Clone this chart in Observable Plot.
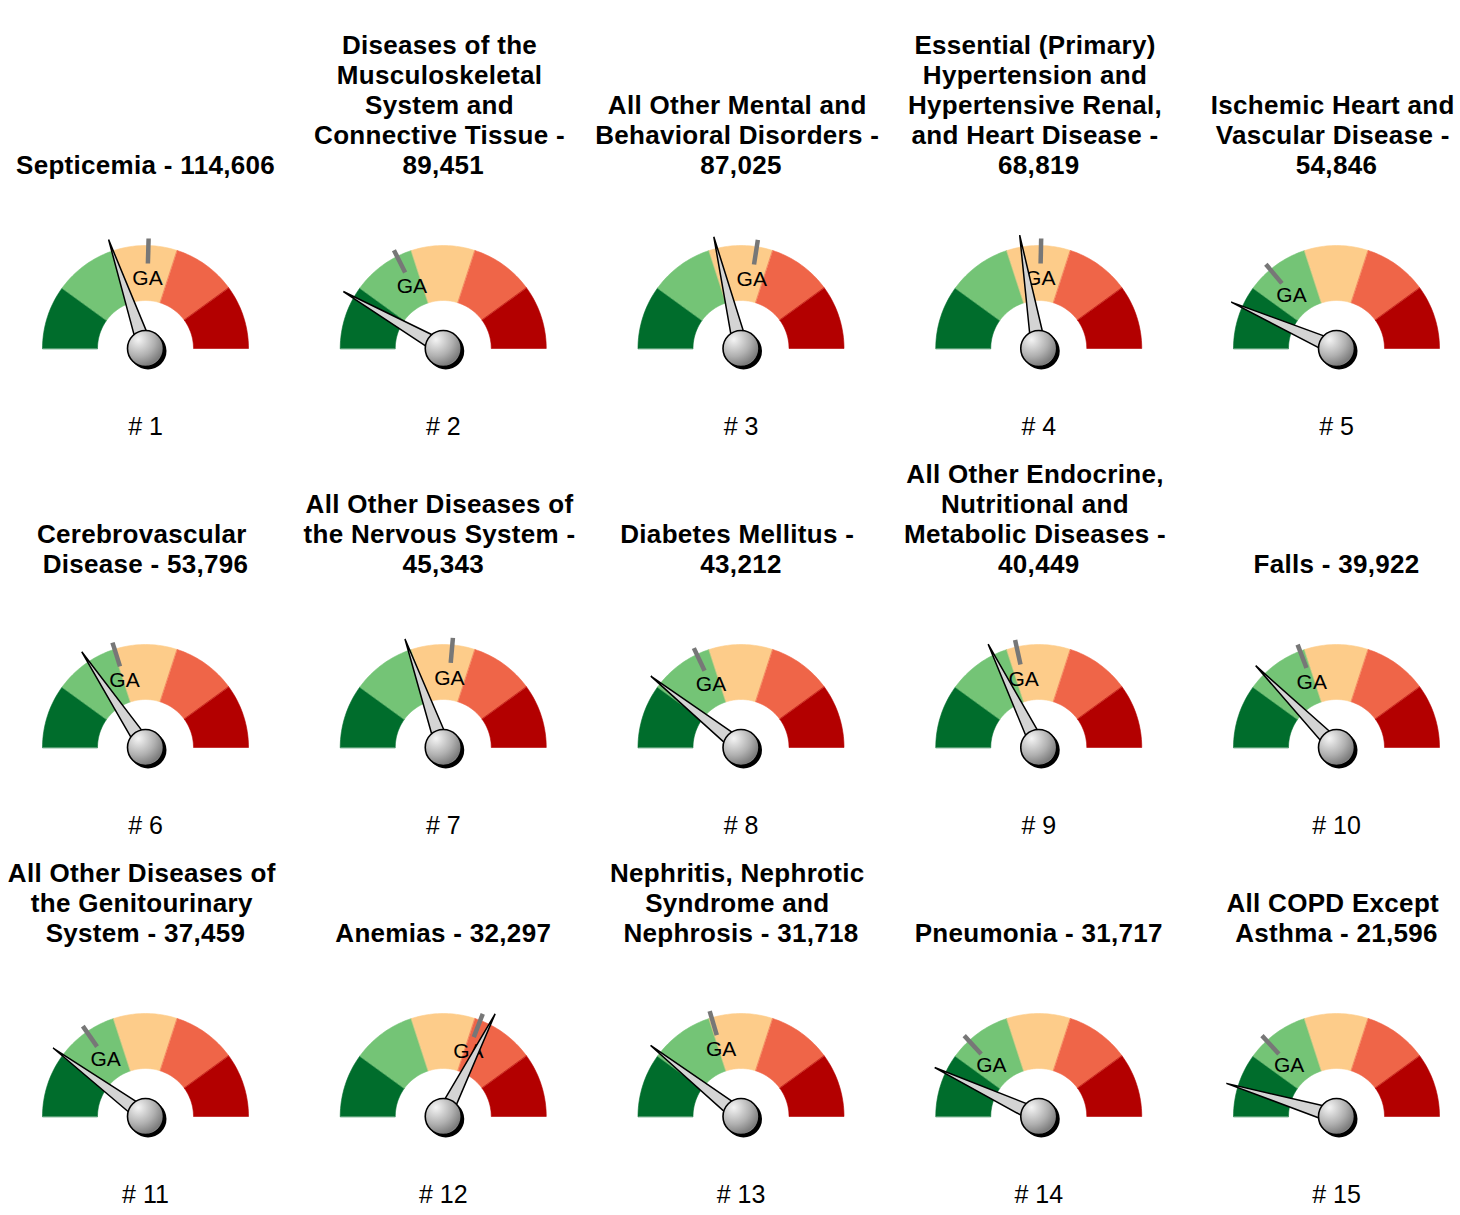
<!DOCTYPE html>
<html>
<head>
<meta charset="utf-8">
<script src="https://cdn.jsdelivr.net/npm/d3@7"></script>
<script src="https://cdn.jsdelivr.net/npm/@observablehq/plot@0.6"></script>
<style>
  body { margin: 0; background: #ffffff; }
  #chart svg { display: block; }
</style>
</head>
<body>
<div id="chart"></div>
<script>
// ---------------- data ----------------
const titles = [
  "Septicemia - 114,606",
  "Diseases of the\nMusculoskeletal\nSystem and\nConnective Tissue -\n89,451",
  "All Other Mental and\nBehavioral Disorders -\n87,025",
  "Essential (Primary)\nHypertension and\nHypertensive Renal,\nand Heart Disease -\n68,819",
  "Ischemic Heart and\nVascular Disease -\n54,846",
  "Cerebrovascular\nDisease - 53,796",
  "All Other Diseases of\nthe Nervous System -\n45,343",
  "Diabetes Mellitus -\n43,212",
  "All Other Endocrine,\nNutritional and\nMetabolic Diseases -\n40,449",
  "Falls - 39,922",
  "All Other Diseases of\nthe Genitourinary\nSystem - 37,459",
  "Anemias - 32,297",
  "Nephritis, Nephrotic\nSyndrome and\nNephrosis - 31,718",
  "Pneumonia - 31,717",
  "All COPD Except\nAsthma - 21,596"
];
const ranks = ["# 1","# 2","# 3","# 4","# 5","# 6","# 7","# 8","# 9","# 10","# 11","# 12","# 13","# 14","# 15"];
// needle position on the dial (0 = far left, 1 = far right)
const needleValues = [0.396, 0.165, 0.424, 0.447, 0.132, 0.313, 0.392, 0.213, 0.355, 0.252, 0.203, 0.649, 0.212, 0.140, 0.093];
// Georgia (GA) reference marker position on the dial
const gaValues     = [0.509, 0.352, 0.549, 0.507, 0.278, 0.403, 0.528, 0.359, 0.431, 0.385, 0.307, 0.617, 0.408, 0.263, 0.263];
const bandBreaks = [0, 0.2, 0.4, 0.6, 0.8, 1];
const bandColors = ["#006d2c", "#74c476", "#fdcc8a", "#ef6548", "#b30000"];
const markerLabel = "GA";

// ---------------- layout ----------------
const W = 1460, H = 1215;
const colX = i => 145 + i * 297.75;
const rowY = [348, 747, 1116];
const R_OUT = 103, R_IN = 48, R_NEEDLE = 115, NEEDLE_HALF = 7.5;
const R_MK1 = 85, R_MK2 = 110, R_LABEL = 70;

const gauges = titles.map((t, i) => ({
  i, title: t, rank: ranks[i], needle: needleValues[i], ga: gaValues[i],
  cx: colX(i % 5), cy: rowY[Math.floor(i / 5)]
}));
const pt = (g, f, r) => ({x: g.cx - r * Math.cos(Math.PI * f), y: g.cy - r * Math.sin(Math.PI * f)});

// band polygons
const bandPts = [];
gauges.forEach(g => {
  for (let b = 0; b < 5; b++) {
    const f0 = bandBreaks[b], f1 = bandBreaks[b + 1], n = 24;
    const id = g.i + "-" + b;
    for (let k = 0; k <= n; k++) { const p = pt(g, f0 + (f1 - f0) * k / n, R_OUT); bandPts.push({id, b, ...p}); }
    for (let k = n; k >= 0; k--) { const p = pt(g, f0 + (f1 - f0) * k / n, R_IN); bandPts.push({id, b, ...p}); }
  }
});

// needle triangles
const needlePts = [];
gauges.forEach(g => {
  const a = Math.PI * g.needle;
  const tip = pt(g, g.needle, R_NEEDLE);
  const px = Math.sin(a) * NEEDLE_HALF, py = -Math.cos(a) * NEEDLE_HALF;
  needlePts.push({id: g.i, x: tip.x, y: tip.y});
  needlePts.push({id: g.i, x: g.cx + px, y: g.cy + py});
  needlePts.push({id: g.i, x: g.cx - px, y: g.cy - py});
});

const markers = gauges.map(g => {
  const p1 = pt(g, g.ga, R_MK1), p2 = pt(g, g.ga, R_MK2), pl = pt(g, g.ga, R_LABEL);
  return {x1: p1.x, y1: p1.y, x2: p2.x, y2: p2.y, lx: pl.x, ly: pl.y};
});

const FONT = "'Liberation Sans', Arial, Helvetica, sans-serif";

const marks = [];
bandColors.forEach((c, b) => {
  marks.push(Plot.line(bandPts.filter(d => d.b === b), {
    x: "x", y: "y", z: "id", fill: c, stroke: c, strokeWidth: 0.6, curve: "linear-closed"
  }));
});
marks.push(Plot.link(markers, {x1: "x1", y1: "y1", x2: "x2", y2: "y2", stroke: "#777777", strokeWidth: 4.5}));
marks.push(Plot.text(markers, {x: "lx", y: "ly", text: () => markerLabel, fontSize: 21, fill: "#000", fontFamily: FONT}));
marks.push(Plot.line(needlePts, {x: "x", y: "y", z: "id", fill: "#d4d4d4", stroke: "#000", strokeWidth: 1.5, strokeLinejoin: "miter", curve: "linear-closed"}));
marks.push(Plot.dot(gauges, {x: "cx", y: "cy", r: 18.5, fill: "#000", stroke: "none", dx: 2.5, dy: 2.5}));
marks.push(Plot.dot(gauges, {x: "cx", y: "cy", r: 18, fill: "url(#hubGrad)", stroke: "#000", strokeWidth: 1.6}));
marks.push(Plot.text(gauges, {
  x: "cx", y: d => d.cy - 174.5, text: "title", lineAnchor: "bottom", lineHeight: 30 / 26,
  fontSize: 26, fontWeight: "bold", fill: "#000", fontFamily: FONT
}));
marks.push(Plot.text(gauges, {
  x: "cx", y: d => d.cy + 86.5, text: "rank", lineAnchor: "bottom",
  fontSize: 25, fill: "#000", fontFamily: FONT
}));

const svg = Plot.plot({
  width: W, height: H,
  margin: 0,
  x: {domain: [0, W], range: [0, W], axis: null},
  y: {domain: [0, H], range: [0, H], axis: null},
  style: {background: "#ffffff", fontFamily: FONT},
  marks
});
// slight tracking on the bold titles, as in the reference
const titleGroups = d3.select(svg).selectAll("[font-weight='bold']").style("letter-spacing", "0.3px");
// wrapped (non-final) title lines sit half a space to the left, as in the reference
titleGroups.selectAll("text").each(function () {
  const spans = this.querySelectorAll("tspan");
  spans.forEach((s, k) => { if (k < spans.length - 1) s.setAttribute("x", -3.75); });
});
const defs = d3.select(svg).insert("defs", ":first-child");
const grad = defs.append("radialGradient").attr("id", "hubGrad")
  .attr("cx", "0.3").attr("cy", "0.25").attr("r", "0.85");
grad.append("stop").attr("offset", "0").attr("stop-color", "#f4f4f4");
grad.append("stop").attr("offset", "0.55").attr("stop-color", "#b0b0b0");
grad.append("stop").attr("offset", "0.9").attr("stop-color", "#7a7a7a");
grad.append("stop").attr("offset", "1").attr("stop-color", "#c8c8c8");
document.getElementById("chart").appendChild(svg);
</script>
</body>
</html>
